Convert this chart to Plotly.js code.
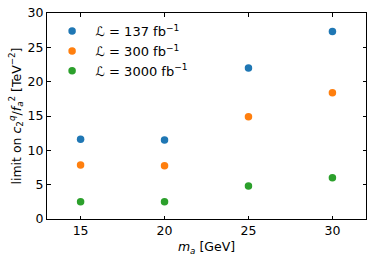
<!DOCTYPE html>
<html><head><meta charset="utf-8">
<script src="https://cdn.plot.ly/plotly-3.0.1.min.js"></script>
<style>html,body{margin:0;padding:0;background:#fff}#c{width:373px;height:260px}</style>
</head><body><div id="c"></div>
<script>
const masses = [15, 20, 25, 30];
const lumi137 = [11.6, 11.5, 22.0, 27.3];
const lumi300 = [7.85, 7.75, 14.9, 18.4];
const lumi3000 = [2.5, 2.5, 4.8, 6.0];
const names = ['\u2112 = 137 fb<sup>\u22121</sup>', '\u2112 = 300 fb<sup>\u22121</sup>', '\u2112 = 3000 fb<sup>\u22121</sup>'];
const colors = ['#1f77b4', '#ff7f0e', '#2ca02c'];
const series = [lumi137, lumi300, lumi3000];
const traces = series.map((s, i) => ({
  x: masses, y: s, type: 'scatter', mode: 'markers', name: names[i],
  marker: {color: colors[i], size: 7.5}
}));
const font = {family: 'DejaVu Sans', size: 12.5, color: '#000'};
const ax = {
  showline: true, linecolor: '#000', linewidth: 1, mirror: 'ticks',
  ticks: 'inside', ticklen: 3.5, tickwidth: 1, tickcolor: '#000',
  showgrid: false, zeroline: false, tickfont: font
};
Plotly.newPlot('c', traces, {
  width: 373, height: 260,
  margin: {l: 47, r: 7, t: 13, b: 41},
  paper_bgcolor: '#fff', plot_bgcolor: '#fff',
  font: font,
  showlegend: true,
  legend: {x: 0.005, y: 0.985, xanchor: 'left', yanchor: 'top', bgcolor: 'rgba(0,0,0,0)',
           font: {family: 'DejaVu Sans', size: 13}, itemwidth: 37, tracegroupgap: 0},
  xaxis: Object.assign({}, ax, {range: [13, 32], tickvals: [15, 20, 25, 30],
    title: {text: '<i>m</i><sub><i>a</i></sub> [GeV]', font: {family: 'DejaVu Sans', size: 12.5}, standoff: 5}}),
  yaxis: Object.assign({}, ax, {range: [0, 30], tickvals: [0, 5, 10, 15, 20, 25, 30],
    title: {text: 'limit on <i>c</i><sub>2</sub><sup><i>q</i></sup>/<i>f</i><sub><i>a</i></sub><sup>2</sup> [TeV<sup>\u22122</sup>]',
      font: {family: 'DejaVu Sans', size: 12.5}, standoff: 3}})
}, {displayModeBar: false, staticPlot: true});
</script></body></html>
